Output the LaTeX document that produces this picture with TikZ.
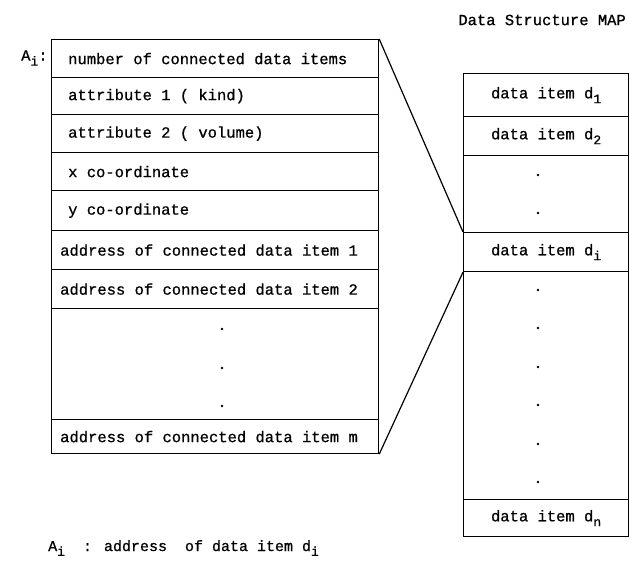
\documentclass[tikz,border=0pt]{standalone}
\usepackage{fontspec}
\setmainfont{Liberation Mono}[FakeBold=0.8]
\newcommand{\sbs}[1]{\raisebox{-0.6ex}{\fontsize{13}{13}\selectfont #1}}
\tikzset{
  cell/.style={draw, line width=1.2pt, rectangle, inner sep=0pt, anchor=north west},
  lcell/.style={cell, minimum width=327pt},
  rcell/.style={cell, minimum width=165pt, font=\fontsize{15.5}{16}\selectfont},
  txt/.style={inner sep=0pt, font=\fontsize{15.5}{16}\selectfont},
  dot/.style={circle, fill, inner sep=0pt, minimum size=2.6pt},
  link/.style={line width=1.2pt}
}
\begin{document}
\begin{tikzpicture}[x=1pt,y=-1pt]
\useasboundingbox (0,0) rectangle (630,566);
% left table
\node[lcell, minimum height=38pt] (r1) at (51,39) {};
\node[lcell, minimum height=37pt] (r2) at (51,77) {};
\node[lcell, minimum height=38pt] (r3) at (51,114) {};
\node[lcell, minimum height=38pt] (r4) at (51,152) {};
\node[lcell, minimum height=40pt] (r5) at (51,190) {};
\node[lcell, minimum height=39pt] (r6) at (51,230) {};
\node[lcell, minimum height=39pt] (r7) at (51,269) {};
\node[lcell, minimum height=111pt] (r8) at (51,308) {};
\node[lcell, minimum height=34pt] (r9) at (51,419) {};
\node[txt, anchor=west] (t1) at ([xshift=17pt]r1.west) {number of connected data items};
\node[txt, anchor=west] (t2) at ([xshift=17pt]r2.west) {attribute 1 ( kind)};
\node[txt, anchor=west] (t3) at ([xshift=17pt]r3.west) {attribute 2 ( volume)};
\node[txt, anchor=west] (t4) at ([xshift=17pt]r4.west) {x co-ordinate};
\node[txt, anchor=west] (t5) at ([xshift=17pt]r5.west) {y co-ordinate};
\node[txt, anchor=west] (t6) at ([xshift=9pt]r6.west) {address of connected data item 1};
\node[txt, anchor=west] (t7) at ([xshift=9pt]r7.west) {address of connected data item 2};
\node[txt, anchor=west] (t9) at ([xshift=9pt]r9.west) {address of connected data item m};
\node[dot] (ld1) at (222,329) {};
\node[dot] (ld2) at (222,368) {};
\node[dot] (ld3) at (222,406) {};
% labels
\node[txt, anchor=west] (ai) at (21,58) {A\sbs{i}:};
\node[txt, anchor=east] (title) at (626,20) {Data Structure MAP};
\node[txt, anchor=base west, font=\fontsize{15}{16}\selectfont] (foot) at (48,551) {A\sbs{i} \ : address \ of data item d\sbs{i}};
% right table
\node[rcell, minimum height=43pt] (d1) at (463,73) {data item d\sbs{1}};
\node[rcell, minimum height=39pt] (d2) at (463,116) {data item d\sbs{2}};
\node[rcell, minimum height=77pt] (dg1) at (463,155) {};
\node[rcell, minimum height=39pt] (di) at (463,232) {data item d\sbs{i}};
\node[rcell, minimum height=228pt] (dg2) at (463,271) {};
\node[rcell, minimum height=37pt] (dn) at (463,499) {data item d\sbs{n}};
\node[dot] (rd1) at (538,175) {};
\node[dot] (rd2) at (538,213) {};
\node[dot] (rd3) at (538,290) {};
\node[dot] (rd4) at (538,328) {};
\node[dot] (rd5) at (538,367) {};
\node[dot] (rd6) at (538,405) {};
\node[dot] (rd7) at (538,444) {};
\node[dot] (rd8) at (538,482) {};
% connectors
\draw[link] (r1.north east) -- (di.north west);
\draw[link] (r9.south east) -- (di.south west);
\end{tikzpicture}
\end{document}
